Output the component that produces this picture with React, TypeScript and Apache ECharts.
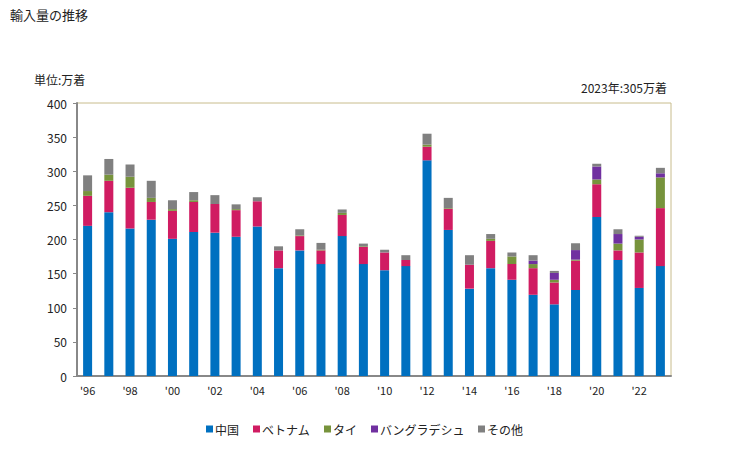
import React, { useEffect, useRef } from "react";
import * as echarts from "echarts";

const years = ["'96","'97","'98","'99","'00","'01","'02","'03","'04","'05","'06","'07","'08","'09","'10","'11","'12","'13","'14","'15","'16","'17","'18","'19","'20","'21","'22","'23"];
const china = [220,240,216,229,201,211,210,204,219,158,184,164,205,164,155,161,316,214,128,158,141,119,105,126,233,170,129,161];
const vietnam = [44,46,60,26,41,44,42,39,37,26,21,20,31,25,26,9,20,31,35,40,23,39,32,43,48,14,52,85];
const thai = [7,9,16,6,2.5,2.5,0,1.5,0,0,1,1,3,1,0,0,3,1,0,3,11,6,4,1.5,7,10,19,45];
const bangladesh = [0,0,0,0,0,0,0,0,0,0,0,0,0,0,0,0,0,0,0,0,0,5,10,14,19,14,4,6];
const others = [23,23,18,25,13,12,13,7,6,6,9,10,5,4,4,7,16,15,14,7,6,8,3,10,4,7,1.5,8];
const yTicks = [0, 50, 100, 150, 200, 250, 300, 350, 400];

const seriesNames = ["中国", "ベトナム", "タイ", "バングラデシュ", "その他"];
const seriesData = [china, vietnam, thai, bangladesh, others];
const colors = ["#0070c0", "#d01c62", "#77933c", "#7030a0", "#808080"];

const FONT = '"Noto Sans CJK JP", sans-serif';

export default function App() {
  const ref = useRef<HTMLDivElement>(null);
  useEffect(() => {
    if (!ref.current) return;
    const chart = echarts.init(ref.current, null, { renderer: "svg" });
    chart.setOption({
      animation: false,
      textStyle: { fontFamily: FONT },
      title: [
        { text: "輸入量の推移", left: 5, top: 3, textStyle: { fontSize: 13, fontWeight: "normal", color: "#222", fontFamily: FONT } },
        { text: "単位:万着", left: 29, top: 68, textStyle: { fontSize: 12, fontWeight: "normal", color: "#222", fontFamily: FONT } },
        { text: "2023年:305万着", right: 57, top: 76, textStyle: { fontSize: 12, fontWeight: "normal", color: "#222", fontFamily: FONT } },
      ],
      legend: {
        bottom: 10,
        left: "center",
        itemWidth: 7,
        itemHeight: 7,
        itemGap: 14,
        icon: "rect",
        textStyle: { fontSize: 12, color: "#222", fontFamily: FONT, padding: [0, 0, 0, -3] },
        data: seriesNames,
      },
      grid: {
        left: 77,
        right: 58,
        top: 103,
        bottom: 74,
        show: true,
        borderColor: "#c8bc8c",
        borderWidth: 1,
      },
      xAxis: {
        type: "category",
        data: years,
        axisLine: { lineStyle: { color: "#888", width: 2 } },
        axisTick: { show: false },
        axisLabel: { interval: 1, fontSize: 11, color: "#222", margin: 8 },
      },
      yAxis: {
        type: "value",
        min: yTicks[0],
        max: yTicks[yTicks.length - 1],
        interval: 50,
        splitLine: { show: false },
        axisLine: { show: true, lineStyle: { color: "#888", width: 2 } },
        axisTick: { show: true, length: 4, lineStyle: { color: "#888" } },
        axisLabel: { fontSize: 12, color: "#222", margin: 10 },
      },
      series: seriesNames.map((name, i) => ({
        name,
        type: "bar",
        stack: "total",
        data: seriesData[i],
        barWidth: 9,
        itemStyle: { color: colors[i] },
      })),
    });
    return () => chart.dispose();
  }, []);
  return <div ref={ref} style={{ width: 729, height: 450, position: "absolute", left: 0, top: 0 }} />;
}
